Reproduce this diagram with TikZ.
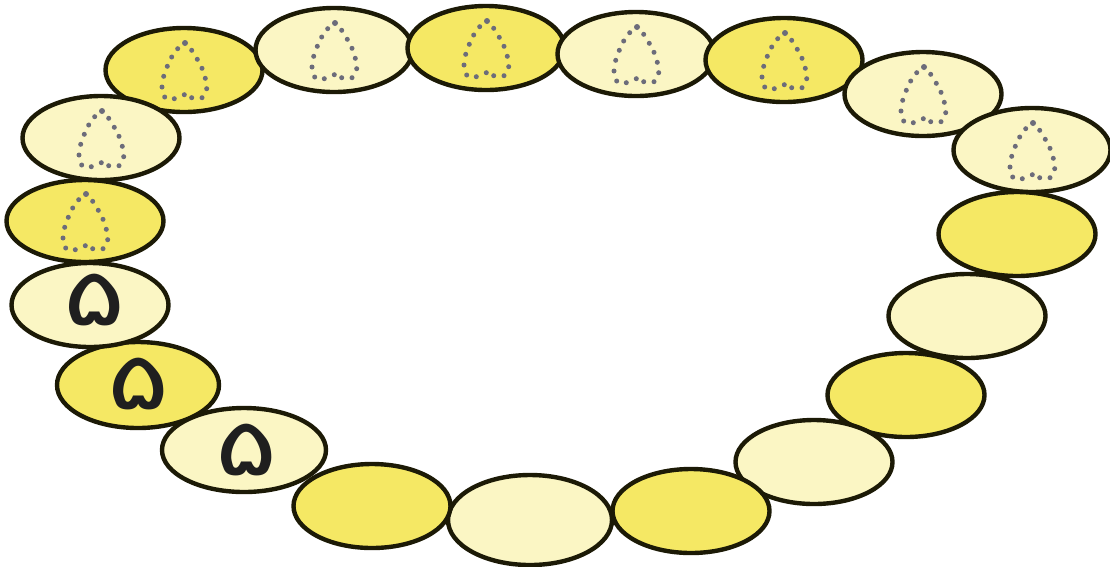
\documentclass[tikz,border=0pt]{standalone}
\usepackage{fontspec}
\usetikzlibrary{shapes.geometric}
\newfontfamily\arabicfont[Script=Arabic]{DejaVu Sans}
\definecolor{pale}{RGB}{251,246,196}
\definecolor{deep}{RGB}{245,232,100}
\definecolor{rim}{RGB}{28,26,6}
\definecolor{dotcol}{RGB}{108,108,122}
\newcommand{\fivemark}{\scalebox{1.45}[1]{۵}}
\tikzset{
  bead/.style={ellipse, draw=rim, line width=4.4pt, inner sep=0pt,
    minimum width=157pt, minimum height=84pt},
  palebead/.style={bead, fill=pale},
  deepbead/.style={bead, fill=deep},
  five/.style={font=\arabicfont\fontsize{80}{80}\selectfont, text=black!88, inner sep=0pt},
  dottedfive/.pic={
    \fill[dotcol] (0,0) circle (3pt);
    \foreach \x/\y in {-7.3/5.7, 6.7/7.3, -13.3/14, 12.3/16.3, -17.7/23.3, 17/25.3,
      -21.3/33.3, 20.3/35.3, -23/44, 21.7/45.7, -20.3/54, -10.7/55.7, -0.7/51.7,
      6.7/54.7, 17/54.7}
      \fill[dotcol] (\x,\y) circle (2.5pt);
  }
}
\begin{document}
\begin{tikzpicture}[x=1pt,y=-1pt]
\useasboundingbox (0,0) rectangle (1110,566);
\node[deepbead] (e1) at (184,70) {};
\node[palebead] (e2) at (334,50) {};
\node[deepbead] (e3) at (486,48) {};
\node[palebead] (e4) at (636,54) {};
\node[deepbead] (e5) at (784,60) {};
\node[palebead] (e6) at (923,94) {};
\node[palebead] (e7) at (1032,150) {};
\node[deepbead] (e8) at (1017,234) {};
\node[palebead] (e9) at (967,316) {};
\node[deepbead] (e10) at (906,395) {};
\node[palebead] (e11) at (814,462) {};
\node[deepbead] (e12) at (691,511) {};
\node[palebead, minimum width=164pt, minimum height=90pt] (e13) at (530,520) {};
\node[deepbead] (e14) at (372,506) {};
\node[palebead, minimum width=164pt] (e15) at (244,450) {};
\node[deepbead, minimum width=162pt, minimum height=86pt] (e16) at (138,385) {};
\node[palebead] (e17) at (90,305) {};
\node[deepbead, minimum height=82pt] (e18) at (85,221) {};
\node[palebead] (e19) at (101,138) {};
\node[five] (t15) at (247,450) {\fivemark};
\node[five] (t16) at (139,384) {\fivemark};
\node[five] (t17) at (95,300) {\fivemark};
\foreach \n in {e1,e2,e3,e4,e5,e6,e7,e18,e19}
  \pic at ([shift={(1,-27)}]\n.center) {dottedfive};
\end{tikzpicture}
\end{document}
